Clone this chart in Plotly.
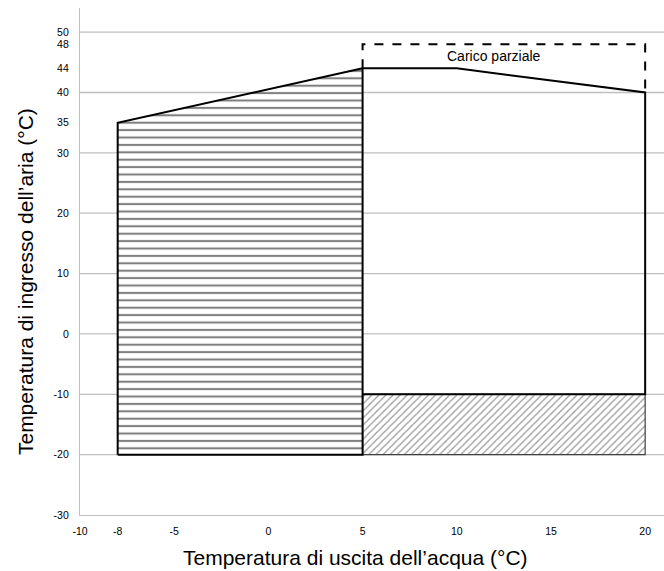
import plotly.graph_objects as go

# Data
left_x = [-8, -8, 5, 5, -8]
left_y = [-20, 35, 44, -20, -20]
right_x = [5, 10, 20, 20, 5]
right_y = [44, 44, 40, -10, -10]
low_x = [5, 20, 20, 5, 5]
low_y = [-20, -20, -10, -10, -20]
part_x = [5, 5, 20, 20]
part_y = [44, 48, 48, 40]
label_text = "Carico parziale"
label_pos = (12.0, 46.1)

x_ticks = [-10, -8, -5, 0, 5, 10, 15, 20]
y_ticks = [-30, -20, -10, 0, 10, 20, 30, 35, 40, 44, 48, 50]
y_grid = [-20, -10, 0, 10, 20, 30, 40, 50]
x_range = [-10, 21]
y_range = [-30, 54]

FONT = "Liberation Sans, Arial, sans-serif"
fig = go.Figure()

for g in y_grid:
    fig.add_shape(type="line", x0=x_range[0], x1=x_range[1], y0=g, y1=g,
                  line=dict(color="#bfbfbf", width=1.3), layer="below")

fig.add_trace(go.Scatter(
    x=low_x, y=low_y, mode="lines", fill="toself", fillcolor="white",
    fillpattern=dict(shape="/", fgcolor="#333333", bgcolor="white", size=5, solidity=0.25),
    line=dict(color="#404040", width=1.2), hoverinfo="skip"))

fig.add_trace(go.Scatter(
    x=left_x, y=left_y, mode="lines", fill="toself", fillcolor="white",
    fillpattern=dict(shape="-", fgcolor="black", bgcolor="white", size=7.4, solidity=0.28),
    line=dict(color="black", width=2), hoverinfo="skip"))

fig.add_trace(go.Scatter(
    x=right_x, y=right_y, mode="lines",
    line=dict(color="black", width=2), hoverinfo="skip"))

fig.add_trace(go.Scatter(
    x=part_x, y=part_y, mode="lines",
    line=dict(color="black", width=2, dash="dash"), hoverinfo="skip"))

fig.add_annotation(x=label_pos[0], y=label_pos[1], text=label_text, showarrow=False,
                   font=dict(family=FONT, size=14, color="black"))

fig.add_annotation(xref="paper", yref="paper", x=0.471, y=-0.083, yanchor="middle",
                   text="Temperatura di uscita dell’acqua (°C)", showarrow=False,
                   font=dict(family=FONT, size=21, color="black"))
fig.add_annotation(xref="paper", yref="paper", x=-0.092, y=0.46, textangle=-90,
                   xanchor="center", yanchor="middle",
                   text="Temperatura di ingresso dell’aria (°C)", showarrow=False,
                   font=dict(family=FONT, size=21, color="black"))

fig.update_layout(
    width=664, height=571,
    margin=dict(l=80, r=0, t=8, b=56),
    plot_bgcolor="white", paper_bgcolor="white",
    showlegend=False,
    xaxis=dict(range=x_range, tickvals=x_ticks, ticktext=[str(v) for v in x_ticks],
               showgrid=False, zeroline=False, showline=True, linecolor="#bfbfbf",
               linewidth=1.3, ticks="", ticklabelstandoff=6,
               tickfont=dict(family=FONT, size=10.5, color="black")),
    yaxis=dict(range=y_range, tickvals=y_ticks, ticktext=[str(v) for v in y_ticks],
               showgrid=False, zeroline=False, showline=True, linecolor="#bfbfbf",
               linewidth=1.3, ticks="", ticklabelstandoff=8,
               tickfont=dict(family=FONT, size=10.5, color="black")),
)

fig.write_html("out.html")
